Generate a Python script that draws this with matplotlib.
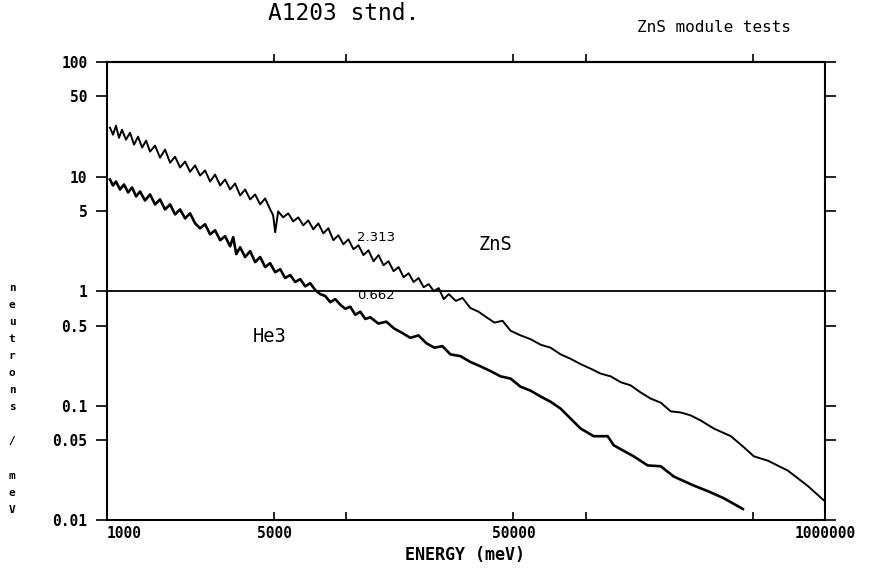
import matplotlib
matplotlib.use("Agg")
import matplotlib.pyplot as plt

# ZnS module spectrum (energy in meV, neutrons / meV)
zns_energy = [1029, 1059, 1090, 1122, 1155, 1200, 1248, 1297, 1348, 1402, 1457, 1513, 1588,
              1666, 1748, 1835, 1925, 2020, 2120, 2224, 2334, 2449, 2570, 2697, 2830, 2970,
              3116, 3270, 3431, 3600, 3778, 3965, 4160, 4366, 4582, 4808, 4949, 5045, 5193,
              5450, 5720, 6003, 6300, 6612, 6939, 7282, 7642, 8020, 8417, 8833, 9270, 9729,
              10210, 10715, 11245, 11801, 12385, 12997, 13640, 14315, 15023, 15766, 16546,
              17364, 18223, 19124, 20070, 21063, 22105, 23198, 24345, 25549, 26813, 28700,
              30600, 33040, 35700, 38560, 41650, 44990, 48610, 53513, 58910, 64890, 71440,
              78686, 86630, 95415, 105040, 115700, 127400, 140300, 154500, 170130, 187300,
              206300, 227100, 250160, 275400, 303350, 343800, 405000, 454700, 505600, 578600,
              701700, 850800, 990000]
zns_counts = [26.7, 23.2, 27.8, 21.8, 25.6, 21.0, 24.1, 19.0, 22.3, 17.9, 20.6, 16.5, 18.6,
              14.6, 17.2, 13.2, 14.9, 12.0, 13.5, 11.0, 12.5, 10.2, 11.3, 9.05, 10.4, 8.35,
              9.42, 7.71, 8.69, 6.84, 7.71, 6.31, 6.97, 5.71, 6.44, 5.16, 4.58, 3.26, 4.96,
              4.40, 4.77, 4.06, 4.40, 3.75, 4.14, 3.46, 3.90, 3.19, 3.53, 2.78, 3.07, 2.56,
              2.83, 2.32, 2.51, 2.06, 2.27, 1.82, 2.06, 1.68, 1.82, 1.49, 1.62,
              1.32, 1.43, 1.20, 1.30, 1.08, 1.15, 1.00, 1.06, 0.85, 0.94, 0.82,
              0.87, 0.71, 0.66, 0.59, 0.53, 0.55, 0.45, 0.41, 0.38, 0.34, 0.32,
              0.28, 0.256, 0.23, 0.21, 0.19, 0.18, 0.16, 0.15, 0.13, 0.115,
              0.106, 0.089, 0.087, 0.082, 0.074, 0.063, 0.054, 0.044, 0.036, 0.033,
              0.027, 0.0198, 0.0149]

# He3 reference detector spectrum
he3_energy = [1029, 1059, 1090, 1133, 1178, 1225, 1273, 1323, 1374, 1442, 1513, 1588, 1666,
              1748, 1835, 1925, 2020, 2120, 2224, 2334, 2449, 2570, 2697, 2830, 2970, 3116,
              3270, 3370, 3469, 3600, 3778, 3965, 4160, 4366, 4582, 4808, 5045, 5294, 5556,
              5830, 6119, 6420, 6738, 7069, 7418, 7784, 8168, 8572, 8995, 9439, 9905, 10394,
              10907, 11446, 12011, 12604, 13615, 14706, 15870, 17160, 18534, 20020, 21625,
              23360, 25230, 27254, 30012, 33040, 36393, 40080, 44130, 48610, 53513, 58910,
              64890, 71440, 78686, 86630, 95415, 108150, 123800, 131100, 159000, 182000,
              206300, 233800, 283600, 324500, 378600, 454700]
he3_counts = [9.42, 8.35, 9.05, 7.71, 8.52, 7.26, 8.02, 6.70, 7.40, 6.18, 6.97, 5.71, 6.31,
              5.16, 5.71, 4.67, 5.16, 4.31, 4.77, 3.90, 3.53, 3.83, 3.13, 3.39, 2.78, 3.01,
              2.46, 2.95, 2.10, 2.41, 1.98, 2.23, 1.79, 1.98, 1.62, 1.75, 1.46, 1.55, 1.30,
              1.38, 1.20, 1.27, 1.10, 1.17, 1.02, 0.94, 0.905, 0.80, 0.85, 0.76, 0.70, 0.73,
              0.62, 0.66, 0.57, 0.59, 0.52, 0.54, 0.47, 0.43, 0.39, 0.41, 0.35,
              0.32, 0.33, 0.28, 0.27, 0.24, 0.22, 0.20, 0.18, 0.172, 0.146, 0.135,
              0.12, 0.108, 0.094, 0.077, 0.063, 0.054, 0.054, 0.045, 0.036, 0.030,
              0.0295, 0.024, 0.020, 0.0179, 0.0155, 0.0125]

y_ticks = [100, 50, 10, 5, 1, 0.5, 0.1, 0.05, 0.01]
y_labels = ["100", "50", "10", "5", "1", "0.5", "0.1", "0.05", "0.01"]
x_ticks = [1000, 5000, 10000, 50000, 100000, 500000, 1000000]
x_labels = ["1000", "5000", "", "50000", "", "", "1000000"]
top_ticks = [5000, 10000, 50000, 100000, 500000]

mono = "DejaVu Sans Mono"

fig = plt.figure(figsize=(8.7, 5.69), dpi=100)
ax = fig.add_axes([0.123, 0.086, 0.825, 0.805])

ax.plot(zns_energy, zns_counts, color="black", lw=1.4)
ax.plot(he3_energy, he3_counts, color="black", lw=1.9)
ax.axhline(1, color="black", lw=1.3)

ax.set_xscale("log")
ax.set_yscale("log")
ax.set_xlim(1000, 1000000)
ax.set_ylim(0.01, 100)

ax.set_yticks(y_ticks)
ax.set_yticklabels(y_labels, fontfamily=mono, fontweight="bold", fontsize=10.5)
ax.yaxis.set_minor_locator(matplotlib.ticker.NullLocator())
ax.set_xticks(x_ticks)
ax.set_xticklabels(x_labels, fontfamily=mono, fontweight="bold", fontsize=10.5)
ax.xaxis.set_minor_locator(matplotlib.ticker.NullLocator())
ax.get_xticklabels()[0].set_ha("left")
ax.tick_params(axis="y", direction="out", right=True, length=8, width=1.2, pad=6)
ax.tick_params(axis="x", direction="in", length=6, width=1.2, pad=4)

top = ax.secondary_xaxis("top")
top.set_xticks(top_ticks)
top.xaxis.set_minor_locator(matplotlib.ticker.NullLocator())
top.tick_params(direction="out", length=6, width=1.2, labeltop=False)

for s in ax.spines.values():
    s.set_linewidth(1.5)
top.spines["top"].set_linewidth(1.5)

ax.text(11100, 2.95, "2.313", fontsize=9.5, va="center")
ax.text(11100, 0.92, "0.662", fontsize=9.5, va="center")
ax.text(35700, 2.56, "ZnS", fontsize=13.5, va="center", family=mono)
ax.text(4050, 0.40, "He3", fontsize=13.5, va="center", family=mono)

fig.text(0.395, 0.977, "A1203 stnd.", ha="center", va="center", fontsize=16.5, family=mono)
fig.text(0.821, 0.951, "ZnS module tests", ha="center", va="center", fontsize=11.5,
         family=mono)
fig.text(0.534, 0.025, "ENERGY (meV)", ha="center", va="center", fontsize=12,
         family=mono, fontweight="bold")
fig.text(0.014, 0.299, "\n".join("neutrons / meV"), ha="center", va="center", fontsize=8,
         family=mono, fontweight="bold", linespacing=1.88)

fig.savefig("out.png", dpi=100)
